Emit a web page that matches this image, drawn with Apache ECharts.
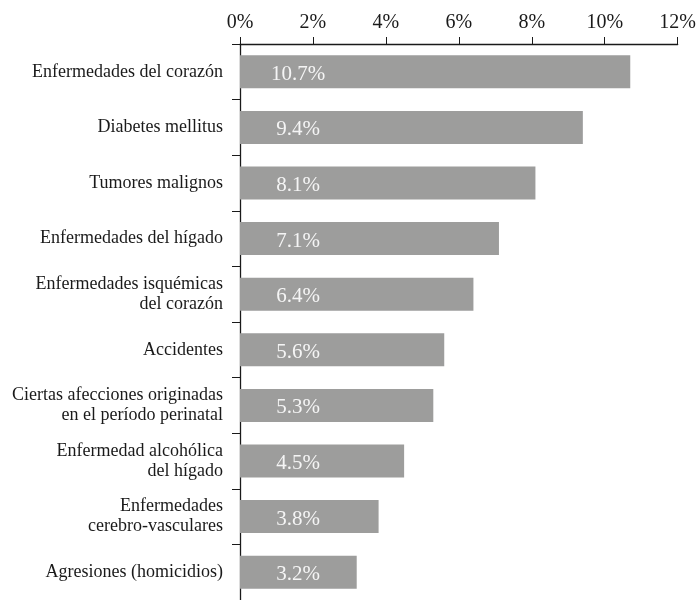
<!DOCTYPE html>
<html><head><meta charset="utf-8">
<script src="https://cdn.jsdelivr.net/npm/echarts@6/dist/echarts.min.js"></script>
<style>html,body{margin:0;padding:0;background:#fff}#c{width:699px;height:600px}</style>
</head><body><div id="c"></div>
<script>
const categories = [
  "Enfermedades del corazón",
  "Diabetes mellitus",
  "Tumores malignos",
  "Enfermedades del hígado",
  "Enfermedades isquémicas\ndel corazón",
  "Accidentes",
  "Ciertas afecciones originadas\nen el período perinatal",
  "Enfermedad alcohólica\ndel hígado",
  "Enfermedades\ncerebro-vasculares",
  "Agresiones (homicidios)"
];
const values = [10.7, 9.4, 8.1, 7.1, 6.4, 5.6, 5.3, 4.5, 3.8, 3.2];
const tickLabels = ["0%", "2%", "4%", "6%", "8%", "10%", "12%"];

const serif = '"Liberation Serif", "DejaVu Serif", serif';
const chart = echarts.init(document.getElementById('c'), null, {renderer: 'canvas'});
chart.setOption({
  animation: false,
  grid: {left: 240, right: 19, top: 44, height: 560, containLabel: false},
  xAxis: {
    type: 'value', position: 'top', min: 0, max: 12, interval: 2,
    axisLine: {show: true, lineStyle: {color: '#1a1a1a', width: 1.3}},
    axisTick: {show: true, length: 7, lineStyle: {color: '#1a1a1a'}},
    splitLine: {show: false},
    axisLabel: {
      margin: 11, color: '#1a1a1a', fontFamily: serif, fontSize: 20,
      formatter: function (v) { return tickLabels[Math.round(v / 2)]; }
    }
  },
  yAxis: {
    type: 'category', inverse: true, data: categories,
    axisLine: {show: true, lineStyle: {color: '#1a1a1a', width: 1.3}},
    axisTick: {show: true, length: 8, lineStyle: {color: '#1a1a1a'}},
    axisLabel: {margin: 17, color: '#1a1a1a', fontFamily: serif, fontSize: 18, lineHeight: 20, align: 'right', padding: [6, 0, 0, 0]}
  },
  series: [{
    type: 'bar', data: values, barWidth: 33,
    itemStyle: {color: '#9d9d9c'},
    label: {
      show: true, position: [58, 19], align: 'center', verticalAlign: 'middle',
      color: '#f5f5f5', fontFamily: serif, fontSize: 21,
      formatter: function (p) { return p.value.toFixed(1) + '%'; }
    }
  }]
});
</script></body></html>
